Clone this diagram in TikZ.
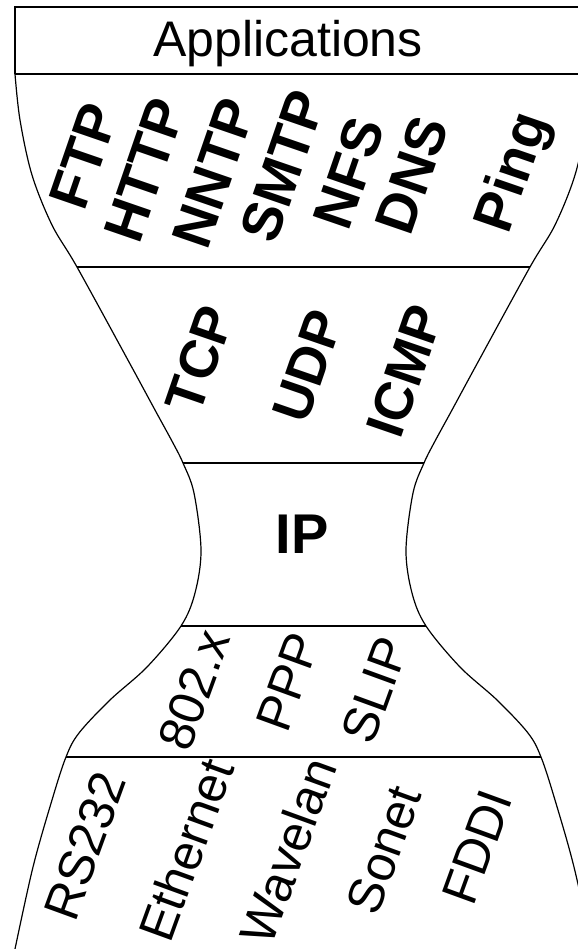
\documentclass[tikz,border=0pt]{standalone}
\usepackage{fontspec}
\setmainfont{Liberation Sans}
\begin{document}
\begin{tikzpicture}[x=0.5pt, y=-0.5pt, line width=0.6pt]
\tikzset{
  proto/.style={font=\bfseries\fontsize{28}{32}\selectfont, rotate=71, inner sep=0pt},
  transport/.style={proto, font=\bfseries\fontsize{27}{31}\selectfont},
  linklabel/.style={font=\fontsize{25}{29}\selectfont, rotate=70, inner sep=0pt},
  title/.style={font=\fontsize{25}{30}\selectfont, inner sep=0pt},
  waist/.style={font=\bfseries\fontsize{28}{32}\selectfont, inner sep=0pt},
  profile/.style={smooth, tension=0.55},
}
\useasboundingbox (0,0) rectangle (578,949);
\clip (0,0) rectangle (578,949);

% left side of the hourglass, mirrored for the right side
\def\hourglassside{
  (15,74) (20,120) (32,175) (52,225) (77,267) (129,362) (155,410)
  (173,443) (183,463) (194,493) (201,550) (195,593) (181,626)
  (147,667) (110,700) (79,733) (66,757) (52,800) (33,867) (15,949)}
\draw plot[profile] coordinates {\hourglassside};
\begin{scope}[shift={(607,0)}, xscale=-1]
  \draw plot[profile] coordinates {\hourglassside};
\end{scope}

% top box
\draw (15,74) -- (15,7) -- (592,7) -- (592,74);

% layer boundaries
\draw (15,74) -- (592,74);
\draw (77,267) -- (530,267);
\draw (183,463) -- (424,463);
\draw (181,626) -- (426,626);
\draw (66,757) -- (541,757);

% labels
\node[title] (apps) at (288,44) {Applications};

\node[proto] (ftp)  at (84,156)  {FTP};
\node[proto] (http) at (145,170) {HTTP};
\node[proto] (nntp) at (214,173) {NNTP};
\node[proto] (smtp) at (283,166) {SMTP};
\node[proto] (nfs)  at (349,173) {NFS};
\node[proto] (dns)  at (412,175) {DNS};
\node[proto] (ping) at (515,173) {Ping};

\node[transport] (tcp)  at (200,359) {TCP};
\node[transport] (udp)  at (308,366) {UDP};
\node[transport] (icmp) at (405,371) {ICMP};

\node[waist] (ip) at (302,534) {IP};

\node[linklabel] (ieee) at (194,690) {802.x};
\node[linklabel] (ppp)  at (288,682) {PPP};
\node[linklabel] (slip) at (375,690) {SLIP};

\node[linklabel] (rs)    at (85,846)  {RS232};
\node[linklabel] (eth)   at (186,850) {Ethernet};
\node[linklabel] (wave)  at (288,851) {Wavelan};
\node[linklabel] (sonet) at (384,850) {Sonet};
\node[linklabel] (fddi)  at (477,847) {FDDI};
\end{tikzpicture}
\end{document}
